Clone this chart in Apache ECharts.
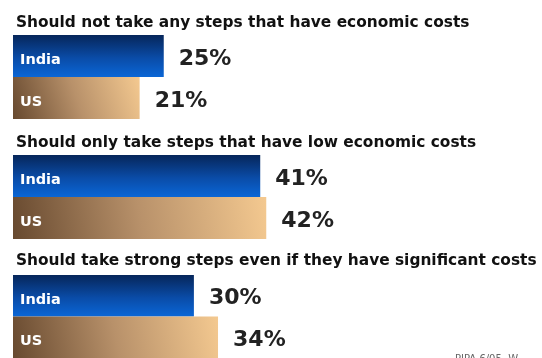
<!DOCTYPE html>
<html><head><meta charset="utf-8">
<script src="https://cdn.jsdelivr.net/npm/echarts@6/dist/echarts.min.js"></script>
<style>html,body{margin:0;padding:0;background:#fff}#c{width:542px;height:358px}</style>
</head><body><div id="c"></div>
<script>
var questions = [
  "Should not take any steps that have economic costs",
  "Should only take steps that have low economic costs",
  "Should take strong steps even if they have significant costs"
];
var countries = ["India", "US"];
var indiaValues = [25, 41, 30];
var usValues = [21, 42, 34];
var footnote = "PIPA 6/05  W";

var chart = echarts.init(document.getElementById('c'), null, {renderer: 'canvas'});
var gridTops = [35, 155, 275];
var titleTops = [10, 130, 248];
var indiaColor = new echarts.graphic.LinearGradient(0, 0, 0, 1, [
  {offset: 0, color: '#06265a'}, {offset: 0.55, color: '#0a4ca8'}, {offset: 1, color: '#0a66d6'}]);
var usColor = new echarts.graphic.LinearGradient(0, 1, 1, 0, [
  {offset: 0, color: '#67492f'}, {offset: 0.5, color: '#b8916a'}, {offset: 1, color: '#f4c990'}]);

var grids = [], xAxes = [], yAxes = [], series = [], titles = [];
for (var i = 0; i < 3; i++) {
  grids.push({left: 13, top: gridTops[i], width: 482.4, height: 84});
  xAxes.push({gridIndex: i, type: 'value', min: 0, max: 80, show: false});
  yAxes.push({gridIndex: i, type: 'category', data: countries, inverse: true, z: 10,
    axisLine: {show: false}, axisTick: {show: false},
    axisLabel: {inside: true, color: '#fff', fontFamily: 'DejaVu Sans', fontWeight: 'bold',
      fontSize: 14.5, margin: 7, verticalAlign: 'top', lineHeight: 8}});
  series.push({type: 'bar', xAxisIndex: i, yAxisIndex: i, barCategoryGap: 0,
    data: [{value: indiaValues[i], itemStyle: {color: indiaColor}},
           {value: usValues[i], itemStyle: {color: usColor}}],
    label: {show: true, position: 'right', distance: 15, offset: [0, 3], formatter: '{c}%', color: '#222',
      fontFamily: 'DejaVu Sans', fontWeight: 'bold', fontSize: 22}});
  titles.push({text: questions[i], left: 11, top: titleTops[i],
    textStyle: {fontFamily: 'DejaVu Sans', fontWeight: 'bold', fontSize: 15.4, color: '#111'}});
}
titles.push({text: footnote, left: 450, top: 349,
  textStyle: {fontFamily: 'DejaVu Sans', fontWeight: 'normal', fontSize: 10, color: '#666'}});

chart.setOption({
  animation: false,
  title: titles,
  grid: grids, xAxis: xAxes, yAxis: yAxes, series: series
});
</script></body></html>
